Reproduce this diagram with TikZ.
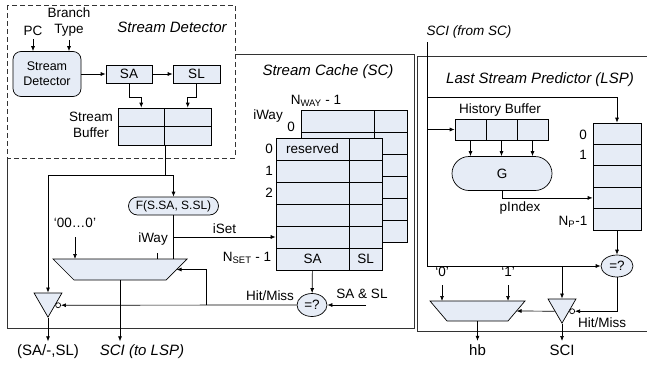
\documentclass[tikz,border=0pt]{standalone}
\usepackage{fontspec}
\setmainfont{Liberation Sans}
\usetikzlibrary{arrows.meta,shapes.geometric,shapes.misc}
\definecolor{cellfill}{RGB}{230,236,246}
\begin{document}
\begin{tikzpicture}[x=1pt,y=-1pt,line width=.7pt,>={Latex[length=5pt,width=4pt]},
    font=\fontsize{13.5}{16}\selectfont,
    cell/.style={draw,fill=cellfill,inner sep=0pt,minimum height=22pt},
    tri/.style={regular polygon,regular polygon sides=3,shape border rotate=180,draw,fill=cellfill,minimum size=32.3pt,inner sep=0pt},
    bub/.style={circle,draw,fill=white,minimum size=5pt,inner sep=0pt},
    cmp/.style={ellipse,draw,fill=cellfill,minimum width=30pt,minimum height=23pt,inner sep=0pt},
    fun/.style={rounded rectangle,draw,fill=cellfill,inner sep=0pt},
    ttl/.style={font=\fontsize{15}{17}\selectfont\itshape},
    big/.style={font=\fontsize{15}{17}\selectfont}]
    \useasboundingbox (0,0) rectangle (647,367);
    \draw[black!80] (7,54) rectangle (414,328);
    \draw[black!80] (417,56) rectangle (660,331);
    \draw[black!80,dash pattern=on 5pt off 3pt,fill=white] (7,5) rectangle (235,158);

    \node[ttl] at (172,27) {Stream Detector};
    \node (pc) at (33,31) {PC};
    \node[align=center] (bt) at (69,22) {Branch\\Type};
    \node[cell,rounded corners=8pt,minimum width=68pt,minimum height=45pt,align=center,font=\fontsize{12.5}{15}\selectfont] (sd) at (47,74) {Stream\\Detector};
    \node[cell,minimum width=46pt,minimum height=18pt] (sa) at (129,74) {SA};
    \node[cell,minimum width=47pt,minimum height=18pt] (sl) at (196.5,74) {SL};
    \foreach \i/\x/\y in {1/141.25/117.25,2/187.75/117.25,3/141.25/135.75,4/187.75/135.75}
        \node[cell,minimum width=46.5pt,minimum height=18.5pt] (sb\i) at (\x,\y) {};
    \node[align=center] at (91,125) {Stream\\Buffer};
    \draw[->] (pc) -- (pc |- sd.north);
    \draw[->] (bt) -- (bt |- sd.north);
    \draw[->] (sd) -- (sa);
    \draw[->] (sa) -- (sl);
    \draw[->] (sa.south) -- ++(0,14) -| (sb1.north);
    \draw[->] (sl.south) -- ++(0,14) -| (sb2.north);
    \draw (sb3.south east) -- ++(0,30) coordinate (br);

    \node[ttl] at (328,72) {Stream Cache (SC)};
    \foreach \i in {0,...,5} {
        \node[cell,minimum width=73pt] (ba\i) at (337.5,{121+22*\i}) {};
        \node[cell,minimum width=33pt] (bb\i) at (390.5,{121+22*\i}) {};
    }
    \foreach \i/\a/\b in {0/reserved/,1//,2//,3//,4//,5/SA/SL} {
        \node[cell,minimum width=73pt] (fa\i) at (312.5,{149+22*\i}) {\a};
        \node[cell,minimum width=33pt] (fb\i) at (365.5,{149+22*\i}) {\b};
    }
    \node at (316,101) {N\textsubscript{WAY} - 1};
    \node at (268,116) {iWay};
    \node at (291,127) {0};
    \foreach \i in {0,1,2} \node at (269,{149+22*\i}) {\i};
    \node at (247,258) {N\textsubscript{SET} - 1};

    \node[fun,minimum width=90pt,minimum height=18pt,font=\fontsize{12}{14}\selectfont] (fn) at (173.5,206) {F(S.SA, S.SL)};
    \draw[fill=cellfill] (53,259) -- (187,259) -- (166,280) -- (74,280) -- cycle;
    \coordinate (mSn) at (120,259);
    \coordinate (mSs) at (120,280);
    \coordinate (mSe) at (176.5,269.5);
    \node[tri] (tS) at (48,301) {};
    \node[bub,anchor=west] (bS) at (tS.side 1) {};
    \node[cmp] (eS) at (312,305) {=?};
    \draw[->] (br) -| (fn.north);
    \draw[->] (br) -| (tS.side 2);
    \draw (fn.south) -- (fn.south |- mSn);
    \draw[->] (fn.south |- fa4.west) -- node[above] {iSet} (fa4.west);
    \node at (153,239) {iWay};
    \draw ([xshift=37pt]mSn) -- ++(0,-6);
    \node (zz) at (75,223) {`00\ldots0'};
    \draw[->] ([yshift=-6pt]zz.south) -- (zz.south |- mSn);
    \draw[->] (fa5) -- (eS);
    \node at (362,294) {SA \& SL};
    \coordinate (sasl) at (366,305);
    \draw[->] (sasl) -- (eS);
    \node at (270,296) {Hit/Miss};
    \draw[->] (eS) -- (bS);
    \coordinate (hS) at (206,305);
    \draw[->] (hS) |- (mSe);
    \node[ttl] (toLSP) at (142,352) {SCI (to LSP)};
    \node[big] (sal) at (48,352) {(SA/-,SL)};
    \draw[->] (mSs) -- (mSs |- toLSP.north);
    \draw[->] (tS.corner 1) -- (tS.corner 1 |- sal.north);

    \node[ttl,font=\fontsize{13.5}{16}\selectfont\itshape] at (469,32) {SCI (from SC)};
    \coordinate (sci) at (427,42);
    \node[ttl] at (540,80) {Last Stream Predictor (LSP)};
    \node at (500,110) {History Buffer};
    \foreach \i/\x in {1/470.5,2/501.5,3/532.5}
        \node[cell,minimum width=31pt,minimum height=21pt] (h\i) at (\x,129.5) {};
    \node[fun,minimum width=100pt,minimum height=34pt] (g) at (502,173.5) {G};
    \foreach \i in {1,2,3} \draw[->] (h\i) -- (h\i |- g.north);
    \foreach \i in {0,...,4}
        \node[cell,minimum width=48pt,minimum height=21.4pt] (p\i) at (617,{133.7+21.4*\i}) {};
    \node at (583,135) {0};
    \node at (583,155) {1};
    \node at (573,222) {N\textsubscript{P}-1};
    \node[cmp,minimum width=32pt,minimum height=22pt] (eL) at (617,266) {=?};
    \draw[->] (p4) -- (eL);
    \draw[->] (sci) |- (eL);
    \draw[->] ([yshift=-55pt]sci) -| (p0);
    \draw[->] (sci |- h1) -- (h1);
    \draw[->] (g) |- (p3);
    \node at (520,208) {pIndex};
    \node[tri] (tL) at (562,307) {};
    \node[bub,anchor=west] (bL) at (tL.side 1) {};
    \draw[->] (eL) |- (bL);
    \node at (602,323) {Hit/Miss};
    \draw[->] (tL.side 2 |- eL) -- (tL.side 2);
    \draw[fill=cellfill] (430,301) -- (525,301) -- (508,321) -- (447,321) -- cycle;
    \coordinate (mLn) at (477.5,301);
    \coordinate (mLs) at (477.5,321);
    \coordinate (mLe) at (516.5,311);
    \draw[->] (tL.side 3) -- (mLe);
    \node (q0) at (442,272) {`0'};
    \node (q1) at (508,272) {`1'};
    \draw[->] ([yshift=-5pt]q0.south) -- (q0.south |- mLn);
    \draw[->] ([yshift=-5pt]q1.south) -- (q1.south |- mLn);
    \node[big] (hb) at (477.5,350) {hb};
    \node[big] (sco) at (562,350) {SCI};
    \draw[->] (mLs) -- (hb);
    \draw[->] (tL.corner 1) -- (sco);
\end{tikzpicture}
\end{document}
